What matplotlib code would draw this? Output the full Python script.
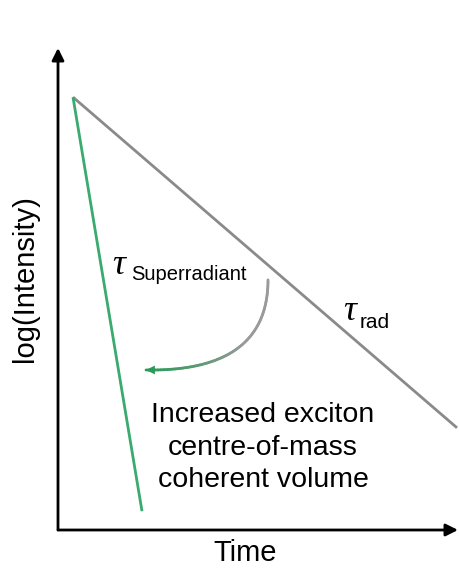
import numpy as np
import matplotlib
matplotlib.use("Agg")
import matplotlib.pyplot as plt
from matplotlib.collections import LineCollection

plt.rcParams['font.family'] = ['Liberation Sans', 'DejaVu Sans']

# Data (normalised time vs normalised log intensity)
rad_time = [0.0375, 0.9975]
rad_logI = [0.898, 0.212]
super_time = [0.0375, 0.21]
super_logI = [0.898, 0.039]

# curved arrow end points (t, logI) and control point
arc_start = (0.525, 0.519)
arc_ctrl = (0.525, 0.328)
arc_end = (0.22, 0.332)

note_lines = ["Increased exciton", "centre-of-mass", "coherent volume"]

gray = "#8a8a8a"
green = "#3aaa6e"
arrow_green = "#2a9a58"

W, H = 459, 571
fig = plt.figure(figsize=(W / 100, H / 100), dpi=100)
# axes placed so the frame spans x 58..458 px and y 48..530 px
ax = fig.add_axes([58 / W, (H - 530) / H, 400 / W, 482 / H])
ax.set_xlim(0, 1)
ax.set_ylim(0, 1)
ax.axis('off')

# axes with arrows
ax.annotate("", xy=(1.0, 0), xytext=(0, 0),
            arrowprops=dict(arrowstyle="-|>", color="black", lw=2,
                            mutation_scale=18, shrinkA=0, shrinkB=0),
            annotation_clip=False)
ax.annotate("", xy=(0, 1.0), xytext=(0, 0),
            arrowprops=dict(arrowstyle="-|>", color="black", lw=2,
                            mutation_scale=18, shrinkA=0, shrinkB=0),
            annotation_clip=False)

ax.plot(rad_time, rad_logI, color=gray, lw=2, solid_capstyle='butt')
ax.plot(super_time, super_logI, color=green, lw=2, solid_capstyle='butt')

# gradient curved arrow (quadratic bezier)
s = np.linspace(0, 1, 80)
p0, p1, p2 = np.array(arc_start), np.array(arc_ctrl), np.array(arc_end)
pts = ((1 - s) ** 2)[:, None] * p0 + (2 * (1 - s) * s)[:, None] * p1 + (s ** 2)[:, None] * p2
segs = np.stack([pts[:-1], pts[1:]], axis=1)
c0 = np.array(matplotlib.colors.to_rgb("#9a9a9a"))
c1 = np.array(matplotlib.colors.to_rgb(arrow_green))
frac = np.clip((s[:-1] - 0.45) / 0.55, 0, 1)[:, None]
cols = c0 * (1 - frac) + c1 * frac
ax.add_collection(LineCollection(segs, colors=cols, linewidths=2, capstyle='round'))
ax.annotate("", xy=tuple(pts[-1]), xytext=tuple(pts[-4]),
            arrowprops=dict(arrowstyle="-|>", color=arrow_green, lw=0,
                            mutation_scale=16, shrinkA=0, shrinkB=0))

# labels
fig.text(25 / W, 1 - 279 / H, "log(Intensity)", rotation=90, ha='center', va='center', fontsize=21)
fig.text(245 / W, 1 - 553 / H, "Time", ha='center', va='center', fontsize=21)

tau_font = dict(family='Liberation Serif', style='italic', fontsize=26)
fig.text(112 / W, 1 - 274 / H, "τ", ha='left', va='baseline', **tau_font)
fig.text(131 / W, 1 - 280 / H, "Superradiant", ha='left', va='baseline', fontsize=14.5)
fig.text(343 / W, 1 - 320 / H, "τ", ha='left', va='baseline', **tau_font)
fig.text(360 / W, 1 - 328 / H, "rad", ha='left', va='baseline', fontsize=15)

for line, base in zip(note_lines, [422, 455, 487]):
    fig.text(263 / W, 1 - base / H, line, ha='center', va='baseline', fontsize=20.5)

fig.savefig("out.png", dpi=100, facecolor='white')
